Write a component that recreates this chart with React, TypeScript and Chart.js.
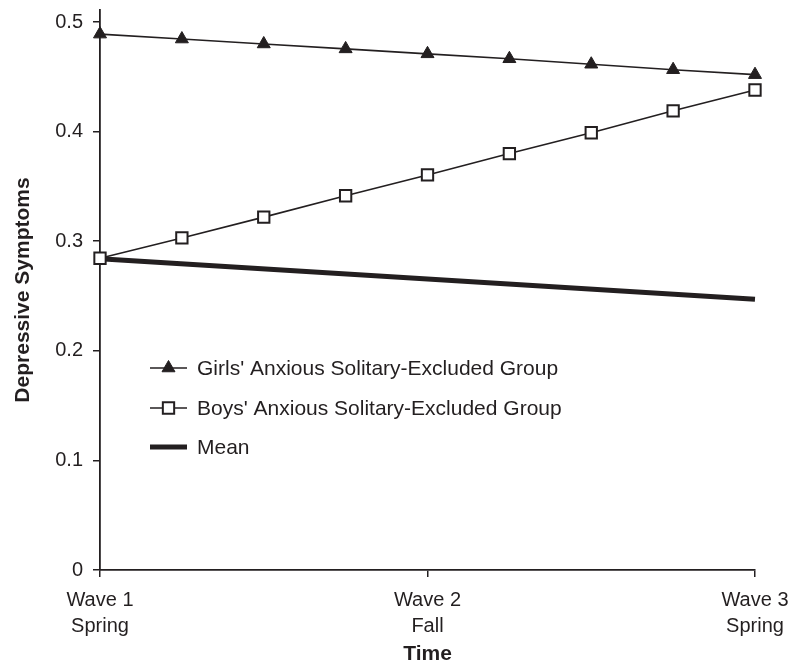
import React, { useEffect, useRef } from "react";
import { Chart, registerables } from "chart.js";

Chart.register(...registerables);

// Time points (9 equally spaced assessments from Wave 1 to Wave 3)
const timePoints = [0, 1, 2, 3, 4, 5, 6, 7, 8];
const girlsValues = [0.489, 0.4845, 0.48, 0.4755, 0.471, 0.4665, 0.4615, 0.4565, 0.452];
const boysValues = [0.2845, 0.303, 0.322, 0.3415, 0.3605, 0.38, 0.399, 0.419, 0.438];
const meanTimes = [0, 8];
const meanValues = [0.284, 0.247];

const waveTickValues = [0, 4, 8];
const waveTickLabels = [
  ["Wave 1", "Spring"],
  ["Wave 2", "Fall"],
  ["Wave 3", "Spring"],
];
const yTickValues = [0, 0.1, 0.2, 0.3, 0.4, 0.5];

const seriesLabels = [
  "Girls' Anxious Solitary-Excluded Group",
  "Boys' Anxious Solitary-Excluded Group",
  "Mean",
];

const INK = "#231f20";
const FONT = "'Liberation Sans', Arial, sans-serif";

function drawMarker(ctx: CanvasRenderingContext2D, style: string, x: number, y: number, r: number, fill: string, stroke: string, bw: number) {
  ctx.save();
  ctx.beginPath();
  if (style === "triangle") {
    let rad = 0;
    ctx.moveTo(x + Math.sin(rad) * r, y - Math.cos(rad) * r);
    rad += (2 * Math.PI) / 3;
    ctx.lineTo(x + Math.sin(rad) * r, y - Math.cos(rad) * r);
    rad += (2 * Math.PI) / 3;
    ctx.lineTo(x + Math.sin(rad) * r, y - Math.cos(rad) * r);
    ctx.closePath();
  } else if (style === "rect") {
    const s = Math.SQRT1_2 * r;
    ctx.rect(x - s, y - s, 2 * s, 2 * s);
  }
  ctx.fillStyle = fill;
  ctx.fill();
  if (bw > 0) {
    ctx.lineWidth = bw;
    ctx.strokeStyle = stroke;
    ctx.stroke();
  }
  ctx.restore();
}

const insideLegend = {
  id: "insideLegend",
  afterDatasetsDraw(chart: any) {
    const ctx: CanvasRenderingContext2D = chart.ctx;
    const rows = [368, 408, 447];
    const x0 = 150;
    const x1 = 187;
    chart.data.datasets.forEach((ds: any, i: number) => {
      const y = rows[i];
      ctx.save();
      ctx.strokeStyle = ds.borderColor;
      ctx.lineWidth = ds.borderWidth;
      ctx.beginPath();
      ctx.moveTo(x0, y);
      ctx.lineTo(x1, y);
      ctx.stroke();
      if (ds.pointRadius > 0) {
        drawMarker(ctx, ds.pointStyle, (x0 + x1) / 2, y, ds.pointRadius, ds.pointBackgroundColor, ds.pointBorderColor, ds.pointBorderWidth);
      }
      ctx.fillStyle = INK;
      ctx.font = `21px ${FONT}`;
      ctx.textAlign = "left";
      ctx.textBaseline = "middle";
      ctx.fillText(ds.label, 197, y + 1);
      ctx.restore();
    });
  },
};

export default function App() {
  const ref = useRef<HTMLCanvasElement | null>(null);

  useEffect(() => {
    if (!ref.current) return;
    const chart = new Chart(ref.current, {
      type: "line",
      data: {
        datasets: [
          {
            label: seriesLabels[0],
            data: timePoints.map((t, i) => ({ x: t, y: girlsValues[i] })),
            borderColor: INK,
            borderWidth: 1.6,
            pointStyle: "triangle",
            pointRadius: 7.5,
            pointBackgroundColor: INK,
            pointBorderColor: INK,
            pointBorderWidth: 1,
            tension: 0,
            clip: false,
          } as any,
          {
            label: seriesLabels[1],
            data: timePoints.map((t, i) => ({ x: t, y: boysValues[i] })),
            borderColor: INK,
            borderWidth: 1.6,
            pointStyle: "rect",
            pointRadius: 8,
            pointBackgroundColor: "#ffffff",
            pointBorderColor: INK,
            pointBorderWidth: 2,
            tension: 0,
            clip: false,
          } as any,
          {
            label: seriesLabels[2],
            data: meanTimes.map((t, i) => ({ x: t, y: meanValues[i] })),
            borderColor: INK,
            borderWidth: 5,
            pointRadius: 0,
            tension: 0,
            clip: false,
          } as any,
        ],
      },
      options: {
        responsive: false,
        animation: false,
        devicePixelRatio: 1,
        layout: { padding: { top: 8, right: 38, left: 0, bottom: 0 } },
        plugins: {
          legend: { display: false },
          tooltip: { enabled: false },
        },
        scales: {
          x: {
            type: "linear",
            min: 0,
            max: 8,
            afterBuildTicks: (scale: any) => {
              scale.ticks = waveTickValues.map((v) => ({ value: v }));
            },
            afterFit: (scale: any) => {
              scale.height = 97;
              scale.paddingLeft = 0;
              scale.paddingRight = 0;
            },
            ticks: {
              color: INK,
              font: { family: FONT, size: 20, lineHeight: 1.3 },
              padding: 10,
              maxRotation: 0,
              autoSkip: false,
              callback: (v: any) => {
                const idx = waveTickValues.indexOf(Number(v));
                return idx >= 0 ? waveTickLabels[idx] : "";
              },
            },
            grid: {
              display: true,
              drawOnChartArea: false,
              drawTicks: true,
              tickLength: 7,
              color: INK,
              lineWidth: 1.5,
            },
            border: { display: true, color: INK, width: 1.8 },
            title: {
              display: true,
              text: "Time",
              color: INK,
              font: { family: FONT, size: 21, weight: "bold", lineHeight: 1.2 },
              padding: { top: 0, bottom: 0 },
            },
          },
          y: {
            type: "linear",
            min: 0,
            max: 0.511,
            afterBuildTicks: (scale: any) => {
              scale.ticks = yTickValues.map((v) => ({ value: v }));
            },
            afterFit: (scale: any) => {
              scale.width = 100;
              scale.paddingTop = 0;
              scale.paddingBottom = 0;
            },
            ticks: {
              color: INK,
              font: { family: FONT, size: 20 },
              padding: 10,
              autoSkip: false,
              callback: (v: any) => (Number(v) === 0 ? "0" : Number(v).toFixed(1)),
            },
            grid: {
              display: true,
              drawOnChartArea: false,
              drawTicks: true,
              tickLength: 7,
              color: INK,
              lineWidth: 1.5,
            },
            border: { display: true, color: INK, width: 1.8 },
            title: {
              display: true,
              text: "Depressive Symptoms",
              color: INK,
              font: { family: FONT, size: 21, weight: "bold", lineHeight: 1.2 },
              padding: { top: 11, bottom: 0 },
            },
          },
        },
      },
      plugins: [insideLegend],
    });
    return () => chart.destroy();
  }, []);

  return (
    <div style={{ position: "absolute", left: 0, top: 0, width: 793, height: 667, background: "#ffffff" }}>
      <canvas ref={ref} width={793} height={667} style={{ display: "block" }} />
    </div>
  );
}
